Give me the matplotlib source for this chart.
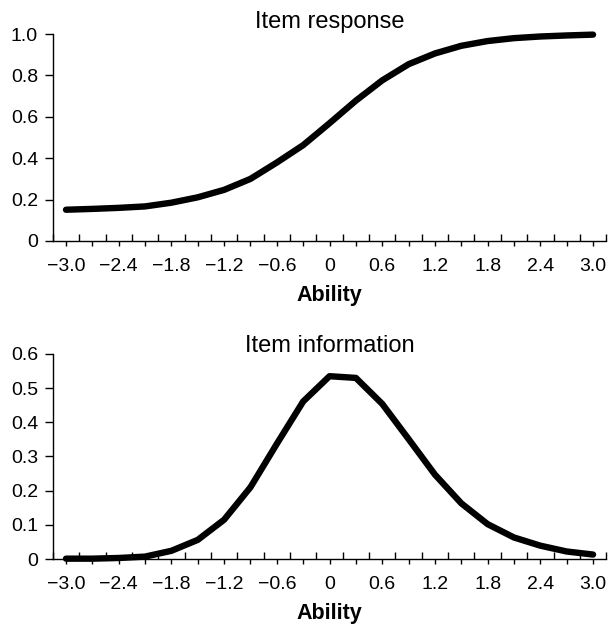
import numpy as np
import matplotlib
matplotlib.use("Agg")
import matplotlib.pyplot as plt
from matplotlib.ticker import FixedLocator, FuncFormatter

plt.rcParams['font.family'] = ['Liberation Sans', 'DejaVu Sans']

ability = [-3.0, -2.7, -2.4, -2.1, -1.8, -1.5, -1.2, -0.9, -0.6, -0.3, 0.0,
           0.3, 0.6, 0.9, 1.2, 1.5, 1.8, 2.1, 2.4, 2.7, 3.0]
item_response = [0.151, 0.155, 0.160, 0.167, 0.185, 0.211, 0.247, 0.300, 0.379,
                 0.463, 0.569, 0.678, 0.776, 0.854, 0.906, 0.943, 0.966, 0.980,
                 0.988, 0.993, 0.997]
item_information = [0.001, 0.001, 0.003, 0.007, 0.024, 0.056, 0.115, 0.210, 0.337,
                    0.461, 0.535, 0.530, 0.454, 0.351, 0.247, 0.163, 0.102, 0.063,
                    0.039, 0.022, 0.013]
x_tick_labels = ['−3.0', '−2.4', '−1.8', '−1.2', '−0.6', '0', '0.6', '1.2', '1.8', '2.4', '3.0']
top_yticks = [0, 0.2, 0.4, 0.6, 0.8, 1.0]
top_ylabels = ['0', '0.2', '0.4', '0.6', '0.8', '1.0']
bot_yticks = [0, 0.1, 0.2, 0.3, 0.4, 0.5, 0.6]
bot_ylabels = ['0', '0.1', '0.2', '0.3', '0.4', '0.5', '0.6']

fig = plt.figure(figsize=(6.10, 6.31), dpi=100)
ax1 = fig.add_axes([0.0866, 0.6181, 0.9072, 0.3280])
ax2 = fig.add_axes([0.0866, 0.1141, 0.9072, 0.3249])

def style(ax, yvals, yticks, ylabels, ymax, title, title_y):
    ax.plot(ability, yvals, color='black', lw=4.6, solid_capstyle='round',
            solid_joinstyle='round', clip_on=False, zorder=5)
    ax.set_xlim(-3.15, 3.15)
    ax.set_ylim(0, ymax)
    for s in ['top', 'right']:
        ax.spines[s].set_visible(False)
    for s in ['left', 'bottom']:
        ax.spines[s].set_linewidth(1.0)
    ax.yaxis.set_major_locator(FixedLocator(yticks))
    ax.set_yticklabels(ylabels)
    ax.tick_params(axis='y', direction='out', length=5.8, width=1.0, labelsize=14, pad=4.8)
    ax.xaxis.set_major_locator(FixedLocator(ability))
    ax.xaxis.set_major_formatter(FuncFormatter(
        lambda v, pos: x_tick_labels[pos // 2] if pos is not None and pos % 2 == 0 else ''))
    minor = [a - 0.15 for a in ability] + [ability[-1] + 0.15]
    ax.xaxis.set_minor_locator(FixedLocator(minor))
    ax.tick_params(axis='x', which='major', direction='out', length=3.6, width=1.0,
                   labelsize=14, pad=8.6)
    ax.tick_params(axis='x', which='minor', direction='in', length=5, width=1.0)
    ax.set_xlabel('Ability', fontsize=15.5, fontweight='bold', labelpad=7)
    ax.text(0.5, title_y, title, transform=ax.transAxes, ha='center', va='baseline',
            fontsize=17)

style(ax1, item_response, top_yticks, top_ylabels, 1.0, 'Item response', 1.030)
style(ax2, item_information, bot_yticks, bot_ylabels, 0.6, 'Item information', 1.011)

fig.savefig('out.png', dpi=100)
